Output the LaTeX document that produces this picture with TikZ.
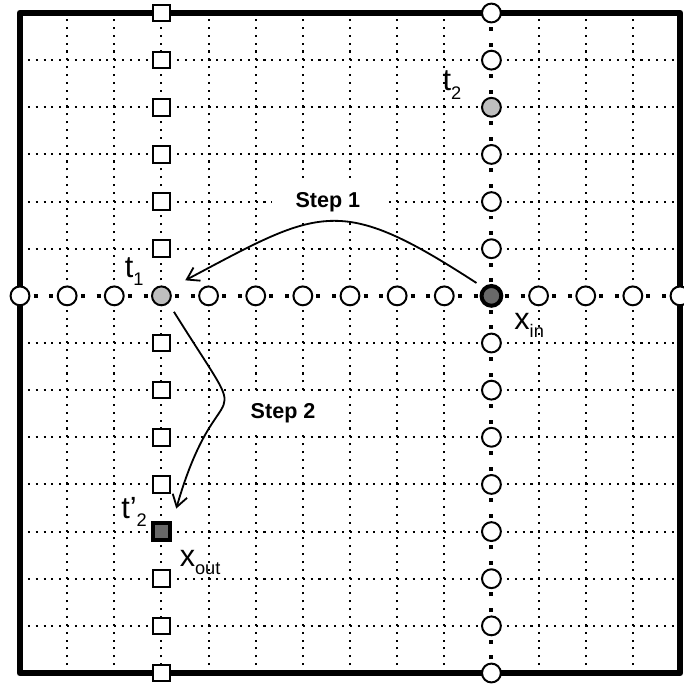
\documentclass[tikz,border=0pt]{standalone}
\usepackage{fontspec}
\setmainfont{Liberation Sans}
\usetikzlibrary{arrows.meta}
\definecolor{nodeGrey}{RGB}{190,190,190}
\definecolor{nodeDark}{RGB}{105,105,105}
\newcommand{\subl}[2]{#1\raisebox{-5pt}{\fontsize{11}{13}\selectfont #2}}

\begin{document}
\begin{tikzpicture}[x=1cm,y=1cm,
    gridline/.style={line width=1.25pt, dash pattern=on 1.25pt off 3.49pt},
    axisline/.style={line width=2.4pt, dash pattern=on 2.4pt off 7.08pt, dash phase=1.2pt},
    frameline/.style={line width=4.2pt, line join=round},
    cnode/.style={circle, draw, fill=white, line width=1.2pt, minimum size=0.4cm, inner sep=0pt},
    snode/.style={rectangle, draw, fill=white, line width=1.2pt, minimum size=0.35cm, inner sep=0pt},
    lbl/.style={font=\fontsize{18.5}{20}\selectfont, inner sep=0pt},
    steplbl/.style={font=\fontsize{13}{15}\selectfont\bfseries, fill=white, inner xsep=14pt, inner ysep=5pt},
    steparrow/.style={-{Straight Barb[length=7pt,width=9pt]}, line width=1.1pt}]
  \useasboundingbox (-0.4243,-0.318) rectangle (14.065,14.276);

  % frame and grid
  \draw[frameline] (0,0) rectangle (14,14);
  \foreach \c in {1,2,3,4,5,6,7,8,9,11,12,13}
    \draw[gridline] (\c,0) -- (\c,14);
  \foreach \r in {1,2,3,4,5,6,7,9,10,11,12,13}
    \draw[gridline] (0,\r) -- (14,\r);
  \draw[axisline] (0,8) -- (14,8);
  \draw[axisline] (10,0) -- (10,14);

  % step labels
  \node[steplbl] (sone) at (6.53,9.99) {Step 1};
  \node[steplbl] (stwo) at (5.58,5.52) {Step 2};

  % squares
  \foreach \y in {0,1,2,4,5,6,7,9,10,11,12,13,14}
    \node[snode] (sq-\y) at (3,\y) {};
  \node[snode, fill=nodeDark, line width=2.4pt, minimum size=0.37cm] (xout) at (3,3) {};

  % circles
  \foreach \x in {0,1,2,4,5,6,7,8,9,11,12,13,14}
    \node[cnode] (cr-\x) at (\x,8) {};
  \foreach \y in {0,1,2,3,4,5,6,7,9,10,11,13,14}
    \node[cnode] (cc-\y) at (10,\y) {};
  \node[cnode, fill=nodeGrey] (tone) at (3,8) {};
  \node[cnode, fill=nodeGrey] (ttwo) at (10,12) {};
  \node[cnode, fill=nodeDark, line width=2.4pt, minimum size=0.42cm] (xin) at (10,8) {};

  % labels
  \node[lbl] (ltone) at (2.42,8.51) {\subl{t}{1}};
  \node[lbl] (lttwo) at (9.16,12.47) {\subl{t}{2}};
  \node[lbl] (lttwop) at (2.42,3.42) {\subl{t'}{2}};
  \node[lbl] (lxin) at (10.80,7.38) {\subl{x}{in}};
  \node[lbl] (lxout) at (3.82,2.35) {\subl{x}{out}};

  % arrows
  \draw[steparrow, shorten <=4.8pt, shorten >=11pt]
    (xin.134) to[out=147, in=28, looseness=1.4] (tone.42);
  \draw[steparrow, shorten <=6pt, shorten >=9pt]
    (tone.-46) to[out=-58, in=74, looseness=2] (xout.39);
\end{tikzpicture}
\end{document}
